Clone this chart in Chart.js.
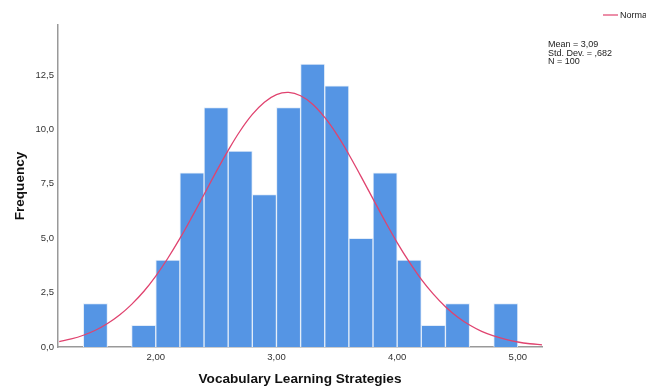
<!DOCTYPE html>
<html>
<head>
<meta charset="utf-8">
<script src="https://cdn.jsdelivr.net/npm/chart.js@4"></script>
<style>
  html, body { margin: 0; padding: 0; background: #fff; }
  #wrap { position: relative; width: 646px; height: 389px; overflow: hidden; }
</style>
</head>
<body>
<div id="wrap"><canvas id="hist" width="646" height="389"></canvas></div>
<script>
// ====== Data ======
// bin centres (width 0.2) and frequencies
const binCenters = [1.5, 1.9, 2.1, 2.3, 2.5, 2.7, 2.9, 3.1, 3.3, 3.5, 3.7, 3.9, 4.1, 4.3, 4.5, 4.9];
const binCounts  = [2, 1, 4, 8, 11, 9, 7, 11, 13, 12, 5, 8, 4, 1, 2, 2];

// normal curve (Mean 3,09 / SD ,682 / N 100)
const curveX = [1.2, 1.3, 1.4, 1.5, 1.6, 1.7, 1.8, 1.9, 2.0, 2.1, 2.2, 2.3, 2.4, 2.5, 2.6, 2.7, 2.8, 2.9, 3.0,
  3.1, 3.2, 3.3, 3.4, 3.5, 3.6, 3.7, 3.8, 3.9, 4.0, 4.1, 4.2, 4.3, 4.4, 4.5, 4.6, 4.7, 4.8, 4.9, 5.0, 5.1, 5.2];
const curveY = [0.25, 0.37, 0.54, 0.77, 1.08, 1.47, 1.96, 2.55, 3.26, 4.08, 4.99, 5.98, 7.01, 8.05, 9.04, 9.94, 10.69, 11.25, 11.60,
  11.70, 11.55, 11.16, 10.55, 9.77, 8.85, 7.84, 6.81, 5.78, 4.80, 3.91, 3.11, 2.43, 1.85, 1.38, 1.01, 0.72, 0.51, 0.35, 0.23, 0.15, 0.10];

const xTicks = [2, 3, 4, 5];
const yTicks = [0, 2.5, 5, 7.5, 10, 12.5];
const statLines = ["Mean = 3,09", "Std. Dev. = ,682", "N = 100"];
const legendLabel = "Normal";

const comma = (v, d) => v.toFixed(d).replace(".", ",");

// ====== Overlay text (stats box + legend) ======
const overlay = {
  id: "overlay",
  afterDraw(chart) {
    const ctx = chart.ctx;
    ctx.save();
    ctx.font = "9px 'Liberation Sans', Arial, sans-serif";
    ctx.fillStyle = "#222";
    ctx.textBaseline = "middle";
    statLines.forEach((s, i) => ctx.fillText(s, 548, 45 + i * 8.5));
    ctx.strokeStyle = "#e0436f";
    ctx.lineWidth = 1.2;
    ctx.beginPath();
    ctx.moveTo(603, 15);
    ctx.lineTo(618, 15);
    ctx.stroke();
    ctx.fillText(legendLabel, 620, 15.5);
    ctx.restore();
  },
};

new Chart(document.getElementById("hist"), {
  data: {
    datasets: [
      {
        type: "line",
        data: curveX.map((x, i) => ({ x, y: curveY[i] })),
        borderColor: "#e0436f",
        borderWidth: 1.3,
        pointRadius: 0,
        tension: 0.4,
        fill: false,
        order: 0,
      },
      {
        type: "bar",
        data: binCenters.map((x, i) => ({ x, y: binCounts[i] })),
        backgroundColor: "#5595e4",
        borderColor: "#e3edf9",
        borderWidth: 1,
        barPercentage: 1,
        categoryPercentage: 1,
        order: 1,
      },
    ],
  },
  plugins: [overlay],
  options: {
    responsive: false,
    animation: false,
    layout: { padding: { left: 0, top: 25, right: 104, bottom: 0 } },
    plugins: { legend: { display: false }, tooltip: { enabled: false } },
    scales: {
      x: {
        type: "linear",
        offset: false,
        min: 1.19,
        max: 5.2,
        afterBuildTicks: (s) => { s.ticks = xTicks.map((v) => ({ value: v })); },
        afterFit: (s) => { s.height = 42; },
        grid: { display: false, drawTicks: false, offset: false },
        border: { display: true, color: "#999", width: 1.5 },
        ticks: {
          padding: 5,
          color: "#333",
          font: { family: "'Liberation Sans', Arial, sans-serif", size: 9.5 },
          callback: (v) => comma(v, 2),
          maxRotation: 0,
        },
        title: {
          display: true,
          text: "Vocabulary Learning Strategies",
          color: "#111",
          font: { family: "'Liberation Sans', Arial, sans-serif", size: 13.6, weight: "bold" },
          padding: { top: 0, bottom: 2 },
        },
      },
      y: {
        min: 0,
        max: 14.8,
        afterBuildTicks: (s) => { s.ticks = yTicks.map((v) => ({ value: v })); },
        afterFit: (s) => { s.width = 58; },
        grid: { display: false, drawTicks: false },
        border: { display: true, color: "#999", width: 1.5 },
        ticks: {
          padding: 4,
          color: "#333",
          font: { family: "'Liberation Sans', Arial, sans-serif", size: 9.5 },
          callback: (v) => comma(v, 1),
        },
        title: {
          display: true,
          text: "Frequency",
          color: "#111",
          font: { family: "'Liberation Sans', Arial, sans-serif", size: 13.6, weight: "bold" },
          padding: { top: 12, bottom: 0 },
        },
      },
    },
  },
});
</script>
</body>
</html>
